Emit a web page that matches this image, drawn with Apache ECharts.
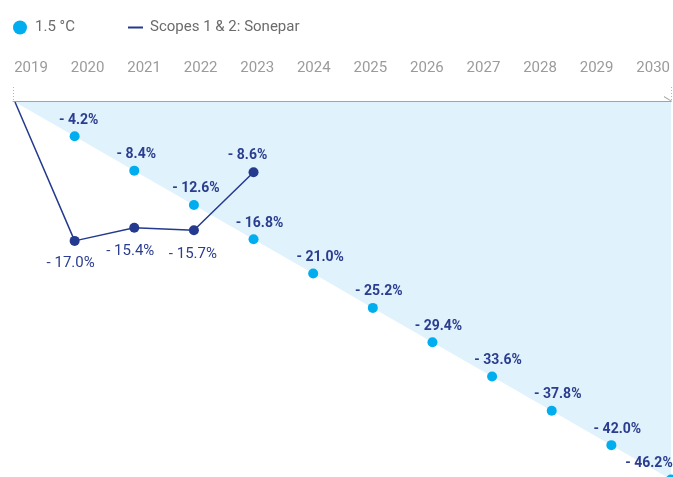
<!DOCTYPE html>
<html>
<head>
<meta charset="utf-8">
<script src="https://cdn.jsdelivr.net/npm/echarts@6/dist/echarts.min.js"></script>
<style>
  html, body { margin: 0; padding: 0; background: #ffffff; }
  #chart { width: 673px; height: 477px; }
</style>
</head>
<body>
<div id="chart"></div>
<script>
// Year categories shown along the top axis
const years = ['2019', '2020', '2021', '2022', '2023', '2024', '2025', '2026', '2027', '2028', '2029', '2030'];

// 1.5 °C reduction pathway (% vs 2019)
const pathwayYears = [2019, 2020, 2021, 2022, 2023, 2024, 2025, 2026, 2027, 2028, 2029, 2030];
const pathwayValues = [0, -4.2, -8.4, -12.6, -16.8, -21.0, -25.2, -29.4, -33.6, -37.8, -42.0, -46.2];

// Scopes 1 & 2 actual emissions change (% vs 2019)
const actualYears = [2019, 2020, 2021, 2022, 2023];
const actualValues = [0, -17.0, -15.4, -15.7, -8.6];

const NAVY = '#233a8e';
const TEXT_NAVY = '#2b3d8f';
const CYAN = '#00adef';
const FONT = 'Roboto, "Noto Sans", sans-serif';

const fmt = v => '- ' + Math.abs(v).toFixed(1) + '%';

// horizontal nudges for the pathway labels
const pathwayLabelDx = [0, 4, 2, 2, 6, 7, 6, 6, 6, 6, 6, -22];

const pathwayData = pathwayYears.map((y, i) => {
  const item = { value: [y, pathwayValues[i]] };
  if (i === 0) {
    item.symbol = 'none';
    item.label = { show: false };
  } else {
    item.label = { offset: [pathwayLabelDx[i], 0] };
  }
  return item;
});

const actualData = actualYears.map((y, i) => {
  const item = { value: [y, actualValues[i]] };
  if (i === 0) {
    item.symbol = 'none';
    item.label = { show: false };
  } else if (i === actualYears.length - 1) {
    // latest year: label sits above the point, in bold
    item.label = { position: 'top', distance: 5, fontWeight: 'bold', fontSize: 14, offset: [-6, 0] };
  } else {
    item.label = { offset: [i === 3 ? -1 : -4, i === 1 ? 2 : 3] };
  }
  return item;
});

const chart = echarts.init(document.getElementById('chart'), null, { renderer: 'canvas' });

chart.setOption({
  animation: false,
  backgroundColor: '#ffffff',
  textStyle: { fontFamily: FONT },
  legend: [
    {
      data: ['1.5 °C'],
      left: 13, top: 20, padding: 0,
      icon: 'circle', itemWidth: 14, itemHeight: 14,
      selectedMode: false,
      textStyle: { color: '#6b6b6b', fontSize: 15, fontFamily: FONT, padding: [0, 0, 0, 3] }
    },
    {
      data: ['Scopes 1 & 2: Sonepar'],
      left: 128, top: 20, padding: 0,
      icon: 'rect', itemWidth: 15, itemHeight: 2,
      selectedMode: false,
      textStyle: { color: '#6b6b6b', fontSize: 15, fontFamily: FONT, padding: [0, 0, 0, 2] }
    }
  ],
  grid: [
    // plot area (runs to the bottom edge; the last point sits just past it)
    { left: 15, right: 2, top: 102, bottom: 0 },
    // year labels
    { left: 31, right: 18.5, top: 87, height: 10 },
    // top axis line with end brackets
    { left: 13, right: 2, top: 87, height: 14 }
  ],
  xAxis: [
    {
      gridIndex: 0, type: 'value', min: 2019, max: 2030,
      show: false
    },
    {
      gridIndex: 1, type: 'category', data: years, position: 'top',
      boundaryGap: false,
      axisLine: { show: false }, axisTick: { show: false },
      axisLabel: { color: '#9b9b9b', fontSize: 15, fontFamily: FONT, margin: 11 },
      splitLine: { show: false }
    },
    {
      gridIndex: 2, type: 'value', min: 2019, max: 2030, interval: 11, position: 'top',
      axisLine: {
        show: true,
        lineStyle: { color: '#a3a3a3', width: 1 },
        symbol: ['none', 'path://M0,8 L5,0 L10,8 L8.8,8 L5,1.6 L1.2,8 Z'],
        symbolSize: [10, 8],
        symbolOffset: [0, -3]
      },
      axisTick: { show: false },
      axisLabel: { show: false },
      splitLine: { show: true, lineStyle: { color: '#b5b5b5', type: [1, 2], width: 1 } }
    }
  ],
  yAxis: [
    { gridIndex: 0, type: 'value', min: -45.9, max: 0, show: false },
    { gridIndex: 1, type: 'value', show: false },
    { gridIndex: 2, type: 'value', show: false }
  ],
  series: [
    {
      name: '1.5 °C',
      type: 'line',
      xAxisIndex: 0, yAxisIndex: 0,
      data: pathwayData,
      symbol: 'circle',
      symbolSize: 10,
      itemStyle: { color: CYAN },
      lineStyle: { width: 0, opacity: 0 },
      areaStyle: { color: '#e0f2fc', opacity: 1, origin: 'end' },
      clip: false,
      z: 2,
      label: {
        show: true,
        position: 'top',
        distance: 4,
        color: TEXT_NAVY,
        fontSize: 14,
        fontWeight: 'bold',
        fontFamily: FONT,
        formatter: p => fmt(p.value[1])
      }
    },
    {
      name: 'Scopes 1 & 2: Sonepar',
      type: 'line',
      xAxisIndex: 0, yAxisIndex: 0,
      data: actualData,
      symbol: 'circle',
      symbolSize: 10,
      itemStyle: { color: NAVY },
      lineStyle: { color: NAVY, width: 1.5 },
      z: 3,
      label: {
        show: true,
        position: 'bottom',
        distance: 8,
        color: TEXT_NAVY,
        fontSize: 15,
        fontFamily: FONT,
        formatter: p => fmt(p.value[1])
      }
    }
  ]
});
</script>
</body>
</html>
